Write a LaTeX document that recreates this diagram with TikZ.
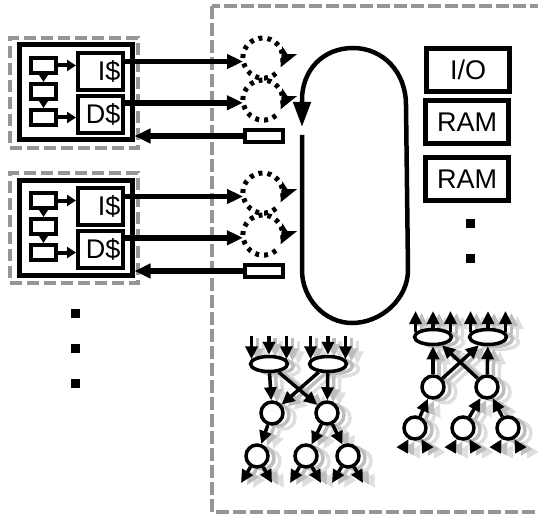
\documentclass[tikz,border=0pt]{standalone}
\usepackage{fontspec}
\setmainfont{Liberation Sans}
\usetikzlibrary{arrows.meta, positioning, calc, shapes.geometric}
\definecolor{framegray}{RGB}{150,150,150}

\begin{document}
\begin{tikzpicture}[x=1pt, y=-1pt,
  frame/.style={draw=framegray, line width=4.5pt, dash pattern=on 12pt off 5pt, inner sep=0pt},
  box/.style={draw, line width=4pt, inner sep=0pt},
  cache/.style={box, minimum width=45pt, minimum height=37pt, text width=40pt, align=right, font=\fontsize{27}{27}\selectfont},
  stage/.style={box, minimum width=25pt, minimum height=15pt},
  unit/.style={draw, line width=5pt, minimum width=83pt, minimum height=43pt, inner sep=0pt, font=\fontsize{27}{27}\selectfont},
  dot/.style={fill, minimum size=9pt, inner sep=0pt},
  bus/.style={line width=5.5pt, -{Triangle[length=16pt,width=14pt]}},
  small/.style={line width=4pt, -{Triangle[length=9pt,width=11pt]}},
  ring/.style={line width=5pt, dash pattern=on 4pt off 5pt},
  tpool/.style={draw, ellipse, line width=3.5pt, minimum width=37pt, minimum height=15pt, inner sep=0pt, fill=white},
  tnode/.style={draw, circle, line width=3.5pt, minimum size=22pt, inner sep=0pt, fill=white},
  flow/.style={line width=3.5pt, -{Triangle[length=13pt,width=12pt]}},
  inflow/.style={line width=3.5pt, {Triangle[length=13pt,width=12pt]}-}
]
  \useasboundingbox (0,0) rectangle (538,516);

  % shared side
  \draw[framegray, line width=4pt, dash pattern=on 13pt off 4pt] (212,6) rectangle (560,512);

  % two cores with their caches
  \foreach \i/\y in {1/0, 2/135} {
    \begin{scope}[shift={(0,\y)}]
      \node[frame, minimum width=128pt, minimum height=110pt] (cpu\i) at (74,93) {};
      \node[box, line width=5pt, minimum width=113pt, minimum height=95pt] (core\i) at (75.5,92.5) {};
      \node[cache] (icache\i) at (100.5,71.5) {I\$};
      \node[cache] (dcache\i) at (100.5,114.5) {D\$};
      \node[stage] (sta\i) at (43.5,65.5) {};
      \node[stage] (stb\i) at (43.5,91.5) {};
      \node[stage] (stc\i) at (43.5,117.5) {};
      \draw[small] (sta\i) -- (sta\i -| icache\i.west);
      \draw[small] (sta\i) -- (stb\i);
      \draw[small] (stb\i) -- (stc\i);
      \draw[small] (stc\i) -- (stc\i -| dcache\i.west);

      \node[circle, minimum size=40pt, inner sep=0pt] (qa\i) at (263,58) {};
      \node[circle, minimum size=40pt, inner sep=0pt] (qb\i) at (263,100) {};
      \draw[bus] (qa\i.190 -| icache\i.east) -- (qa\i.190);
      \draw[bus] (qb\i.188 -| dcache\i.east) -- (qb\i.188);
      \foreach \q in {qa\i, qb\i} {
        \draw[ring, -{Stealth[length=19pt,width=16pt,inset=4pt]}] (\q.180) arc[start angle=180, end angle=-28, radius=20pt];
        \draw[ring] (\q.310) arc[start angle=310, end angle=185, radius=20pt];
      }

      \node[box, minimum width=38pt, minimum height=12pt] (port\i) at (264,136) {};
      \draw[bus] (port\i.west) -- (port\i -| core\i.east);
    \end{scope}
  }

  \node[dot] (more1) at (75,313) {};
  \node[dot] (more2) at (75,348) {};
  \node[dot] (more3) at (75,383) {};

  % ring
  \draw[line width=4.5pt, -{Triangle[length=25pt,width=17pt]}] (302,135) -- (302,270)
    .. controls (302,299) and (325,323) .. (352,323)
    .. controls (381,323) and (408,299) .. (408,270) -- (406,105)
    .. controls (406,72) and (383,48) .. (353,48)
    .. controls (323,48) and (302,70) .. (302,100) -- (302,127);

  % memory side
  \node[unit] (io) at (468,70) {I/O};
  \node[unit] (ram1) at (467,122.5) {RAM};
  \node[unit] (ram2) at (467,179) {RAM};
  \node[dot] (memdot1) at (470,223) {};
  \node[dot] (memdot2) at (470,258) {};

  % fan-out tree and fan-in tree, with ghost copies behind
  \foreach \dx/\dy/\col in {12/5/black!13, 6/2/black!26, 0/0/black} {
    \begin{scope}[shift={(\dx,\dy)}, color=\col]
      \node[tpool] (lpool1) at (269,364) {};
      \node[tpool] (lpool2) at (328,364) {};
      \node[tnode] (lmid1) at (272,413) {};
      \node[tnode] (lmid2) at (327,413) {};
      \node[tnode] (lleaf1) at (257,456) {};
      \node[tnode] (lleaf2) at (306,456) {};
      \node[tnode] (lleaf3) at (348,456) {};
      \foreach \a in {165,90,15} {
        \draw[inflow] (lpool1.\a) -- (lpool1.\a |- 0,336);
        \draw[inflow] (lpool2.\a) -- (lpool2.\a |- 0,336);
      }
      \draw[flow] (lpool1) -- (lmid1);
      \draw[flow] (lpool1) -- (lmid2);
      \draw[flow] (lpool2) -- (lmid1);
      \draw[flow] (lpool2) -- (lmid2);
      \draw[flow] (lmid1) -- (lleaf1);
      \draw[flow] (lmid2) -- (lleaf2);
      \draw[flow] (lmid2) -- (lleaf3);
      \foreach \n in {lleaf1, lleaf2, lleaf3} {
        \draw[flow] (\n) -- ++(-16,27);
        \draw[flow] (\n) -- ++(15,27);
      }

      \node[tpool] (rpool1) at (433,337) {};
      \node[tpool] (rpool2) at (488,337) {};
      \node[tnode] (rmid1) at (433,387) {};
      \node[tnode] (rmid2) at (487,387) {};
      \node[tnode] (rleaf1) at (415,428) {};
      \node[tnode] (rleaf2) at (463,428) {};
      \node[tnode] (rleaf3) at (508,428) {};
      \foreach \a in {165,90,15} {
        \draw[flow] (rpool1.\a) -- (rpool1.\a |- 0,311);
        \draw[flow] (rpool2.\a) -- (rpool2.\a |- 0,311);
      }
      \draw[flow] (rmid1) -- (rpool1);
      \draw[flow] (rmid1) -- (rpool2);
      \draw[flow] (rmid2) -- (rpool1);
      \draw[flow] (rmid2) -- (rpool2);
      \draw[flow] (rleaf1) -- (rmid1);
      \draw[flow] (rleaf2) -- (rmid2);
      \draw[flow] (rleaf3) -- (rmid2);
      \foreach \n in {rleaf1, rleaf2, rleaf3} {
        \draw[inflow] (\n) -- ++(-12,21);
        \draw[inflow] (\n) -- ++(12,21);
      }
    \end{scope}
  }
\end{tikzpicture}
\end{document}
